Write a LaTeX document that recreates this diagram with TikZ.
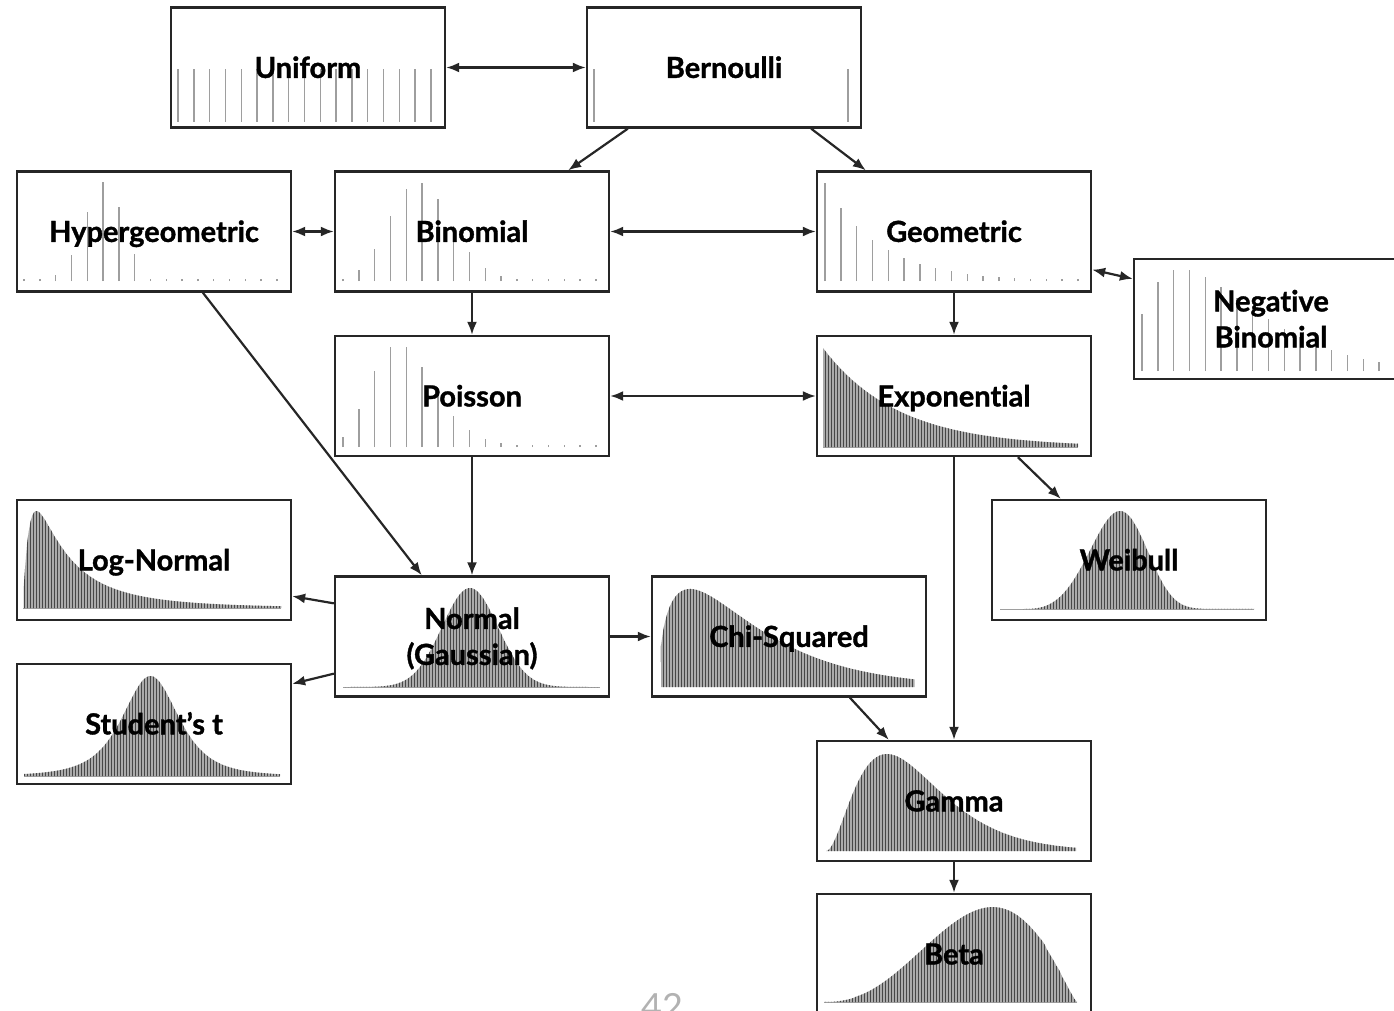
\documentclass[tikz,border=0pt]{standalone}
\usepackage{fontspec}
\setmainfont{Lato}[Ligatures=NoCommon, BoldFeatures={FakeBold=1.2}]
\usetikzlibrary{arrows.meta, patterns}
\colorlet{box edge}{black!85}
\colorlet{bar area}{black!38}
\colorlet{dens area}{black!33}
\colorlet{dens line}{black!72}
\tikzset{
  distbox/.style={draw=box edge, line width=2.3pt, minimum width=274pt, minimum height=120pt,
    inner sep=0pt, align=center, text height=20.8pt, text depth=0pt,
    font=\fontsize{29}{36}\selectfont\bfseries},
  twolines/.style={text height=56.8pt},
  bar/.style={draw=bar area, line width=1.4pt},
  dens/.style={fill=dens area, postaction={pattern=vertical lines, pattern color=dens line}},
  tail/.style={draw=bar area, line width=0.8pt},
  link/.style={-{Latex[length=13pt,width=10pt]}, line width=2.2pt, draw=box edge},
  linkk/.style={{Latex[length=13pt,width=10pt]}-{Latex[length=13pt,width=10pt]}, line width=2.2pt, draw=box edge}
}
% bars of a pmf: first x, base y, heights
\newcommand{\pmfbars}[3]{\foreach \h [count=\k from 0] in {#3} \draw[bar] (#1+15.8*\k,#2) -- ++(0,-\h);}

\begin{document}
\begin{tikzpicture}[x=1pt, y=-1pt]
    \useasboundingbox (0,0) rectangle (1394,1011);

    % discrete ones
    \pmfbars{178}{122}{53,53,53,53,53,53,53,53,53,53,53,53,53,53,53,53,53}
    \draw[bar] (594,122) -- ++(0,-53);
    \draw[bar] (847.8,122) -- ++(0,-53);
    \pmfbars{24}{281}{2,2,6,26,69,99,74,27,2,2,2,2,2,2,2,2,2}
    \pmfbars{343}{281}{2,11,32,65,92,98,82,55,29,13,5,2,2,2,2,2,2}
    \pmfbars{825}{281}{98,73,55,41,31,23,17,13,10,7,5,4,3,2,2,2,2}
    \pmfbars{1142}{371}{57,89,101,101,94,84,73,62,52,42,34,27,21,16,12,9,7}
    \pmfbars{343}{447}{10,38,76,100,100,80,54,31,17,8,4,2,2,2,2,2,2}

    % continuous ones
    \draw[tail] (823,447) -- (1078,447);
    \path[dens] (823,447) -- plot[domain=823:1078,samples=90] (\x,{447-99*exp(-(\x-823)/75)}) -- (1078,447) -- cycle;
    \draw[tail] (23,608) -- (281,608);
    \path[dens] (23.5,608) -- plot[variable=\t,domain=0.06:6.2,samples=150] ({21+42*\t},{608-147.6*exp(-0.5*ln(\t)*ln(\t))/(2.5066*\t)}) -- (281.4,608) -- cycle;
    \draw[tail] (24,776) -- (280,776);
    \path[dens] (24,776) -- plot[domain=24:280,samples=120] (\x,{776-100/((1+((\x-150.5)/51.27)*((\x-150.5)/51.27))^2)}) -- (280,776) -- cycle;
    \draw[tail] (343,687) -- (600,687);
    \path[dens] (343,687) -- plot[domain=343:600,samples=120] (\x,{687-99*exp(-((\x-470)/39.6)*((\x-470)/39.6))}) -- (600,687) -- cycle;
    \path[dens] (661,687) -- plot[variable=\t,domain=0.07:8.2,samples=120] ({658.8+31.2*\t},{687-161.6*sqrt(\t)*exp(-\t/2)}) -- (914.6,687) -- cycle;
    \path[dens] (826,851) -- plot[variable=\t,domain=0:8.2,samples=120] ({826+30.5*\t},{851-179.2*\t*\t*exp(-\t)}) -- (1076,851) -- cycle;
    \draw[tail] (824,1002) -- (1077,1002);
    \path[dens] (824,1002) -- plot[variable=\t,domain=0.001:0.999,samples=120] ({824+253*\t},{1002-1032.6*\t^2.5*(1-\t)^1.25}) -- (1077,1002) -- cycle;
    \draw[tail] (1000,609) -- (1254,609);
    \path[dens] (1021.4,609) -- plot[variable=\t,domain=0.001:2.2,samples=120] ({1021.4+106*\t},{609-257.4*\t*\t*\t*exp(-(\t*\t*\t*\t))}) -- (1254.6,609) -- cycle;

    % boxes
    \node[distbox] (uniform)   at (308,67.5)  {Uniform};
    \node[distbox] (bernoulli) at (724,67.5)  {Bernoulli};
    \node[distbox] (hyper)     at (154,231.5) {Hypergeometric};
    \node[distbox] (binomial)  at (472,231.5) {Binomial};
    \node[distbox] (geometric) at (954,231.5) {Geometric};
    \node[distbox,twolines] (negbin) at (1271,319) {Negative\\Binomial};
    \node[distbox] (poisson)   at (472,396)   {Poisson};
    \node[distbox] (expo)      at (954,396)   {Exponential};
    \node[distbox] (lognorm)   at (154,560)   {Log-Normal};
    \node[distbox] (weibull)   at (1129,560)  {Weibull};
    \node[distbox,twolines] (normal) at (472,636.5) {Normal\\(Gaussian)};
    \node[distbox] (chisq)     at (789,636.5) {Chi-Squared};
    \node[distbox] (student)   at (154,724)   {Student’s t};
    \node[distbox] (gamma)     at (954,801)   {Gamma};
    \node[distbox] (beta)      at (954,954)   {Beta};
    \node[anchor=north, inner sep=0pt, text=black!30, font=\fontsize{36}{36}\selectfont] (pagenum) at (662,993) {42};

    \draw[linkk] (uniform) -- (bernoulli);
    \draw[link] ([xshift=42pt]bernoulli.south west) -- ([xshift=-42pt]binomial.north east);
    \draw[link] ([xshift=-51pt]bernoulli.south east) -- ([xshift=50pt]geometric.north west);
    \draw[linkk] (hyper) -- (binomial);
    \draw[linkk] (binomial) -- (geometric);
    \draw[linkk] ([yshift=23pt]geometric.south east) -- ([yshift=-21pt]negbin.north west);
    \draw[link] (binomial) -- (poisson);
    \draw[link] (geometric) -- (expo);
    \draw[linkk] (poisson) -- (expo);
    \draw[link] ([xshift=187pt]hyper.south west) -- ([xshift=88pt]normal.north west);
    \draw[link] (poisson) -- (normal);
    \draw[link] ([xshift=202pt]expo.south west) -- ([xshift=70pt]weibull.north west);
    \draw[link] (expo) -- (gamma);
    \draw[link] ([yshift=-28pt]normal.north west) -- ([yshift=25pt]lognorm.south east);
    \draw[link] ([yshift=24pt]normal.south west) -- ([yshift=-21pt]student.north east);
    \draw[link] (normal) -- (chisq);
    \draw[link] ([xshift=199pt]chisq.south west) -- ([xshift=73pt]gamma.north west);
    \draw[link] (gamma) -- (beta);
\end{tikzpicture}
\end{document}
